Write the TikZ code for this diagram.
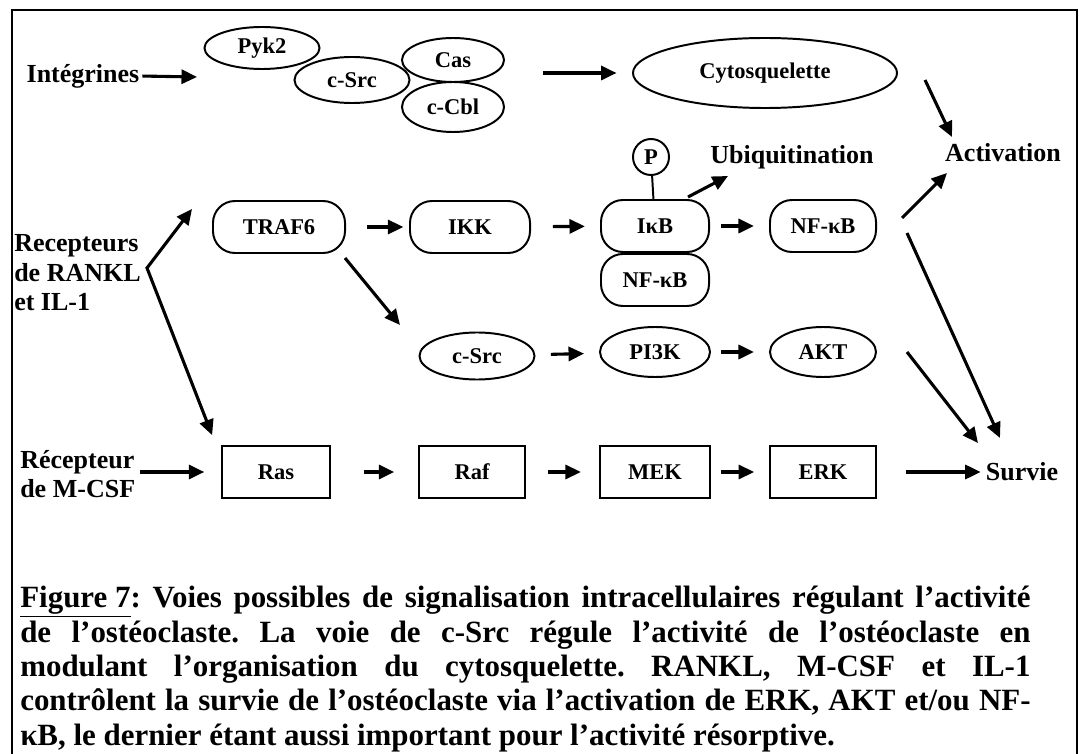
\documentclass[tikz,border=0pt]{standalone}
\usepackage{fontspec}
\setmainfont{Liberation Serif}
\usetikzlibrary{shapes.geometric,arrows.meta,calc,positioning}

\tikzset{
  fat/.tip={Triangle[length=11pt,width=10pt]},
  lbl/.style={font=\fontsize{18.5}{21}\selectfont\bfseries, inner sep=0pt},
  oval/.style={draw, ellipse, line width=1.4pt, inner sep=0pt,
    font=\fontsize{16}{18}\selectfont\bfseries},
  pill/.style={draw, rectangle, rounded corners=0.55cm, line width=1.4pt,
    inner sep=0pt, minimum height=1.3cm, font=\fontsize{16}{18}\selectfont\bfseries},
  box/.style={draw, rectangle, line width=1.2pt, inner sep=0pt,
    minimum height=1.3cm, font=\fontsize{16}{18}\selectfont\bfseries},
  arr/.style={line width=2.2pt, -fat},
}

\begin{document}
\begin{tikzpicture}[x=0.025cm, y=-0.025cm]
  \useasboundingbox (0,0) rectangle (1079,754);
  \draw[line width=1.2pt] (12,754) -- (12,10) -- (1077,10) -- (1077,754);

  % integrines
  \node (intg)  at (83,76)   [lbl] {Intégrines};
  \coordinate (intgend) at (197,77);
  \node (pyk)   at (262,48)  [oval, minimum width=2.875cm, minimum height=1.05cm] {Pyk2};
  \node (srcA)  at (352,80)  [oval, minimum width=2.875cm, minimum height=1.15cm] {c-Src};
  \node (cas)   at (453,60)  [oval, minimum width=2.55cm, minimum height=1.1cm] {Cas};
  \node (cbl)   at (453,107) [oval, minimum width=2.55cm, minimum height=1.25cm] {c-Cbl};
  \node (cyto)  at (765,73)  [oval, minimum width=6.6cm, minimum height=1.75cm] {Cytosquelette};
  \node (activ) at (1003,153) [lbl] {Activation};

  % RANKL / IL-1
  \node (rec)   at (14,273) [lbl, anchor=west, align=left] {Recepteurs\\de RANKL\\et IL-1};
  \coordinate (fork) at (147,268);
  \node (traf)  at (279,227) [pill, minimum width=3.3cm] {TRAF6};
  \node (ikk)   at (470,227) [pill, minimum width=3cm] {IKK};
  \node (ikb)   at (655,226) [pill, minimum width=2.7cm] {IκB};
  \node (nfkbA) [pill, minimum width=2.7cm, below=0pt of ikb] {NF-κB};
  \node (P)     at (651,157) [draw, circle, line width=1.4pt, inner sep=0pt,
    minimum size=0.9cm, font=\fontsize{16}{18}\selectfont\bfseries] {P};
  \node (ubiq)  at (792,157) [lbl] {Ubiquitination};
  \node (nfkb)  at (823,226) [pill, minimum width=2.65cm] {NF-κB};
  \node (srcB)  at (477,356) [oval, minimum width=2.875cm, minimum height=1.175cm] {c-Src};
  \node (pik)   at (655,352) [oval, minimum width=2.75cm, minimum height=1.25cm] {PI3K};
  \node (akt)   at (823,352) [oval, minimum width=2.65cm, minimum height=1.25cm] {AKT};

  % M-CSF
  \node (mcsf)  at (20,474)  [lbl, anchor=west, align=left] {Récepteur\\de M-CSF};
  \node (ras)   at (276,472) [box, minimum width=2.7cm] {Ras};
  \node (raf)   at (472,472) [box, minimum width=2.65cm] {Raf};
  \node (mek)   at (655,472) [box, minimum width=2.75cm] {MEK};
  \node (erk)   at (823,472) [box, minimum width=2.65cm] {ERK};
  \node (surv)  at (1022,472) [lbl] {Survie};

  \draw[arr, shorten <=2pt] (intg.east) -- (intgend);
  \draw[arr, shorten <=27pt, shorten >=11pt] (cas.east |- cyto.west) -- (cyto.west);
  \draw[arr] ($(cyto.east)+(27,7)$) -- ($(activ)+(-51,-16)$);

  \draw[line width=2.2pt, fat-fat] ($(traf.west)+(-20,-18)$) -- (fork)
    -- ($(ras.north west)+(-9,-10)$);
  \draw[arr, shorten <=15pt, shorten >=4pt] (traf) -- (ikk);
  \draw[arr] ($(traf)+(66,31)$) -- ($(srcB)+(-77,-31)$);
  \draw[arr, shorten <=15.6pt, shorten >=10.7pt] (ikk) -- (ikb);
  \draw[arr, shorten <=7.8pt, shorten >=10.7pt] (ikb) -- (nfkb);
  \draw[line width=1.4pt] (P) -- (ikb);
  \draw[arr] ($(ikb)+(33,-29)$) -- ($(ubiq)+(-64,19)$);
  \draw[arr] ($(nfkb)+(79,-8)$) -- ($(activ)+(-56,20)$);
  \draw[arr] ($(nfkb)+(84,7)$) -- ($(surv)+(-22,-34)$);
  \draw[arr, shorten <=11pt, shorten >=10.7pt] (srcB) -- (pik);
  \draw[arr, shorten <=7pt, shorten >=10.7pt] (pik) -- (akt);
  \draw[arr] ($(akt)+(84,0)$) -- ($(surv)+(-44,-29)$);

  \draw[arr, shorten <=3.5pt, shorten >=12pt] (mcsf.east |- ras) -- (ras);
  \draw[arr, shorten <=23.5pt, shorten >=17pt] (ras) -- (raf);
  \draw[arr, shorten <=16pt, shorten >=13pt] (raf) -- (mek);
  \draw[arr, shorten <=7pt, shorten >=10.7pt] (mek) -- (erk);
  \draw[arr, shorten <=20.6pt, shorten >=3.5pt] (erk) -- (surv);

  % legende
  \node (legend) at (20,586) [anchor=north west, inner sep=0pt, text width=25.25cm,
    align=justify, font=\fontsize{22}{24.4}\selectfont\bfseries]
    {\frenchspacing\hyphenpenalty=10000\exhyphenpenalty=10000
     \underline{Figure 7}: Voies possibles de signalisation intracellulaires régulant l’activité\linebreak
     de l’ostéoclaste. La voie de c-Src régule l’activité de l’ostéoclaste en\linebreak
     modulant l’organisation du cytosquelette. RANKL, M-CSF et IL-1\linebreak
     contrôlent la survie de l’ostéoclaste via l’activation de ERK, AKT et/ou NF-\linebreak
     κB, le dernier étant aussi important pour l’activité résorptive.};
\end{tikzpicture}
\end{document}
